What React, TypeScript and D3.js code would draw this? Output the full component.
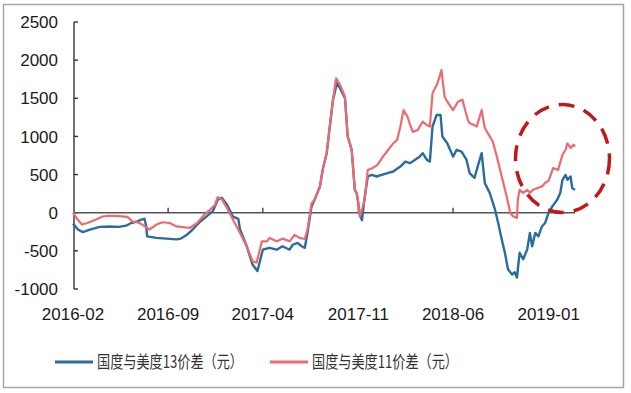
import { useMemo } from "react"
import * as d3 from "d3"

// x-axis category labels (month ticks)
const monthTicks = ["2016-02", "2016-09", "2017-04", "2017-11", "2018-06", "2019-01"]
const valueTicks = [2500, 2000, 1500, 1000, 500, 0, -500, -1000]

const seriesNames = ["国度与美度13价差（元）", "国度与美度11价差（元）"]

// 国度与美度13价差 (blue)
const gap13: [string, number][] = [
  ["2016-02-01", -140], ["2016-02-12", -220], ["2016-02-23", -255], ["2016-03-08", -225],
  ["2016-04-01", -185], ["2016-04-23", -180], ["2016-05-14", -185], ["2016-05-30", -170],
  ["2016-06-10", -135], ["2016-06-24", -115], ["2016-07-03", -90], ["2016-07-10", -80],
  ["2016-07-14", -180], ["2016-07-16", -310], ["2016-08-06", -330], ["2016-08-28", -340],
  ["2016-09-20", -350], ["2016-09-29", -340], ["2016-10-13", -290], ["2016-10-26", -220],
  ["2016-11-12", -115], ["2016-11-27", -45], ["2016-12-10", 20], ["2016-12-21", 170],
  ["2016-12-30", 195], ["2017-01-11", 105], ["2017-01-24", -50], ["2017-02-05", -80],
  ["2017-02-09", -220], ["2017-02-24", -440], ["2017-03-09", -680], ["2017-03-20", -765],
  ["2017-04-01", -485], ["2017-04-16", -460], ["2017-05-02", -485], ["2017-05-15", -440],
  ["2017-05-31", -485], ["2017-06-07", -420], ["2017-06-18", -395], ["2017-06-27", -440],
  ["2017-07-04", -460], ["2017-07-10", -265], ["2017-07-19", 80], ["2017-07-26", 170],
  ["2017-08-07", 345], ["2017-08-13", 560], ["2017-08-22", 780], ["2017-08-29", 1130],
  ["2017-09-05", 1475], ["2017-09-14", 1700], ["2017-09-21", 1630], ["2017-10-02", 1500],
  ["2017-10-08", 1000], ["2017-10-17", 825], ["2017-10-24", 300], ["2017-10-28", 260],
  ["2017-10-31", 150], ["2017-11-04", -20], ["2017-11-09", -100], ["2017-11-15", 200],
  ["2017-11-22", 475], ["2017-12-01", 495], ["2017-12-12", 475], ["2017-12-23", 495],
  ["2018-01-05", 520], ["2018-01-18", 540], ["2018-02-03", 605], ["2018-02-14", 670],
  ["2018-02-25", 650], ["2018-03-08", 695], ["2018-03-18", 735], ["2018-03-25", 780],
  ["2018-04-03", 695], ["2018-04-10", 670], ["2018-04-16", 1130], ["2018-04-25", 1280],
  ["2018-05-04", 1280], ["2018-05-08", 1000], ["2018-05-19", 910], ["2018-06-01", 735],
  ["2018-06-09", 825], ["2018-06-20", 800], ["2018-07-01", 695], ["2018-07-08", 520],
  ["2018-07-19", 455], ["2018-07-26", 605], ["2018-08-04", 780], ["2018-08-11", 390],
  ["2018-08-22", 260], ["2018-09-03", 40], ["2018-09-10", -135], ["2018-09-18", -350],
  ["2018-09-25", -525], ["2018-10-02", -740], ["2018-10-11", -810], ["2018-10-17", -780],
  ["2018-10-22", -850], ["2018-10-28", -525], ["2018-11-05", -610], ["2018-11-14", -480],
  ["2018-11-20", -265], ["2018-11-25", -440], ["2018-12-02", -265], ["2018-12-09", -310],
  ["2018-12-17", -180], ["2018-12-24", -135], ["2019-01-01", 0], ["2019-01-09", 80],
  ["2019-01-20", 170], ["2019-01-27", 260], ["2019-02-01", 430], ["2019-02-08", 495],
  ["2019-02-12", 430], ["2019-02-19", 475], ["2019-02-23", 320], ["2019-03-01", 300],
]

// 国度与美度11价差 (red)
const gap11: [string, number][] = [
  ["2016-02-01", 0], ["2016-02-10", -80], ["2016-02-21", -155], ["2016-03-04", -135],
  ["2016-03-24", -90], ["2016-04-07", -50], ["2016-04-23", -40], ["2016-05-14", -45],
  ["2016-06-02", -55], ["2016-06-13", -115], ["2016-06-24", -125], ["2016-07-05", -155],
  ["2016-07-21", -220], ["2016-08-06", -155], ["2016-08-19", -125], ["2016-09-04", -135],
  ["2016-09-20", -180], ["2016-10-04", -190], ["2016-10-19", -200], ["2016-11-05", -135],
  ["2016-11-18", -45], ["2016-12-04", 40], ["2016-12-15", 105], ["2016-12-21", 205],
  ["2016-12-31", 170], ["2017-01-11", 60], ["2017-01-24", -90], ["2017-02-09", -265],
  ["2017-02-24", -440], ["2017-03-09", -635], ["2017-03-18", -655], ["2017-03-30", -375],
  ["2017-04-10", -375], ["2017-04-16", -330], ["2017-05-02", -375], ["2017-05-15", -340],
  ["2017-05-31", -375], ["2017-06-11", -290], ["2017-06-22", -330], ["2017-07-04", -345],
  ["2017-07-10", -220], ["2017-07-19", 120], ["2017-07-26", 170], ["2017-08-07", 345],
  ["2017-08-13", 560], ["2017-08-22", 780], ["2017-08-29", 1130], ["2017-09-05", 1475],
  ["2017-09-12", 1760], ["2017-09-21", 1675], ["2017-10-02", 1520], ["2017-10-08", 1000],
  ["2017-10-17", 825], ["2017-10-24", 300], ["2017-10-28", 260], ["2017-10-31", 170],
  ["2017-11-04", -50], ["2017-11-09", 40], ["2017-11-15", 170], ["2017-11-22", 560],
  ["2017-12-03", 585], ["2017-12-14", 630], ["2017-12-26", 735], ["2018-01-07", 825],
  ["2018-01-18", 910], ["2018-01-27", 955], ["2018-02-03", 1130], ["2018-02-10", 1345],
  ["2018-02-19", 1260], ["2018-02-25", 1150], ["2018-03-03", 1060], ["2018-03-14", 1085],
  ["2018-03-25", 1195], ["2018-04-03", 1150], ["2018-04-10", 1130], ["2018-04-16", 1565],
  ["2018-04-27", 1695], ["2018-05-06", 1870], ["2018-05-13", 1520], ["2018-05-19", 1455],
  ["2018-06-01", 1345], ["2018-06-12", 1455], ["2018-06-22", 1480], ["2018-07-04", 1215],
  ["2018-07-08", 1175], ["2018-07-24", 1130], ["2018-08-04", 1345], ["2018-08-11", 1110],
  ["2018-08-22", 1000], ["2018-08-29", 930], ["2018-09-07", 735], ["2018-09-18", 475],
  ["2018-09-29", 215], ["2018-10-07", 0], ["2018-10-13", -45], ["2018-10-22", -70],
  ["2018-10-24", 170], ["2018-10-28", 300], ["2018-11-05", 260], ["2018-11-14", 300],
  ["2018-11-20", 260], ["2018-11-27", 300], ["2018-12-06", 320], ["2018-12-17", 345],
  ["2018-12-24", 390], ["2019-01-01", 420], ["2019-01-11", 585], ["2019-01-22", 560],
  ["2019-02-01", 760], ["2019-02-08", 825], ["2019-02-12", 910], ["2019-02-19", 850],
  ["2019-02-26", 890], ["2019-03-01", 865],
]

// highlighted region (dashed ring) around the latest readings
const highlightAt: [string, number] = ["2019-02-01", 710]

const W = 631, H = 393
const parse = d3.timeParse("%Y-%m-%d")
const parseMonth = d3.timeParse("%Y-%m")
const BLUE = "#2a6c9c"
const RED = "#ee6a70"
const FONT = "'Liberation Sans', Arial, sans-serif"
const CJK = "'Noto Sans CJK SC', sans-serif"

export default function App() {
  const x = useMemo(() => d3.scaleTime()
    .domain([new Date(2016, 1, 1), new Date(2019, 2, 1)])
    .range([73, 575]), [])
  const y = useMemo(() => d3.scaleLinear().domain([-1000, 2500]).range([289, 22]), [])

  const line = d3.line<[string, number]>()
    .x(d => x(parse(d[0])!))
    .y(d => y(d[1]))

  const x0 = x.range()[0]
  const x1 = x.range()[1]

  return (
    <svg width={W} height={H} style={{ position: "absolute", left: 0, top: 0, background: "#fff" }}>
      <rect x={3.5} y={4.5} width={620} height={383} fill="#fff" stroke="#a6a6a6" strokeWidth={1.5} />

      {/* y axis */}
      <line x1={x0 + 1} x2={x0 + 1} y1={y(2500)} y2={y(-1000)} stroke="#333" strokeWidth={1.4} />
      {valueTicks.map(v => (
        <g key={v}>
          <line x1={x0 + 1} x2={x0 + 5} y1={y(v)} y2={y(v)} stroke="#333" strokeWidth={1.4} />
          <text x={58} y={y(v)} dy="0.36em" textAnchor="end" fontFamily={FONT} fontSize={17} fill="#1a1a1a">{v}</text>
        </g>
      ))}

      {/* zero axis with month ticks */}
      <line x1={x0 + 1} x2={x1} y1={y(0)} y2={y(0)} stroke="#555" strokeWidth={1.4} />
      {monthTicks.map((m, i) => {
        const tx = x(parseMonth(m)!)
        return (
          <g key={m}>
            {i > 0 && i < monthTicks.length - 1 && (
              <line x1={tx} x2={tx} y1={y(0)} y2={y(0) - 5} stroke="#444" strokeWidth={1.4} />
            )}
            <text x={tx} y={320} textAnchor="middle" fontFamily={FONT} fontSize={17} fill="#1a1a1a">{m}</text>
          </g>
        )
      })}

      <path d={line(gap13) || ""} fill="none" stroke={BLUE} strokeWidth={2.4} strokeLinejoin="round" />
      <path d={line(gap11) || ""} fill="none" stroke={RED} strokeWidth={2.2} strokeLinejoin="round" />

      <ellipse cx={x(parse(highlightAt[0])!)} cy={y(highlightAt[1])} rx={47} ry={54}
        fill="none" stroke="#c0191c" strokeWidth={3.5} strokeDasharray="16 10" />

      {/* legend */}
      {seriesNames.map((name, i) => {
        const lx = i === 0 ? 55 : 270
        return (
          <g key={name}>
            <line x1={lx} x2={lx + 38} y1={362} y2={362} stroke={i === 0 ? BLUE : RED} strokeWidth={3} />
            <text x={lx + 42} y={362} dy="0.36em" fontFamily={CJK} fontSize={17} fill="#333"
              textLength={146} lengthAdjust="spacingAndGlyphs">{name}</text>
          </g>
        )
      })}
    </svg>
  )
}
